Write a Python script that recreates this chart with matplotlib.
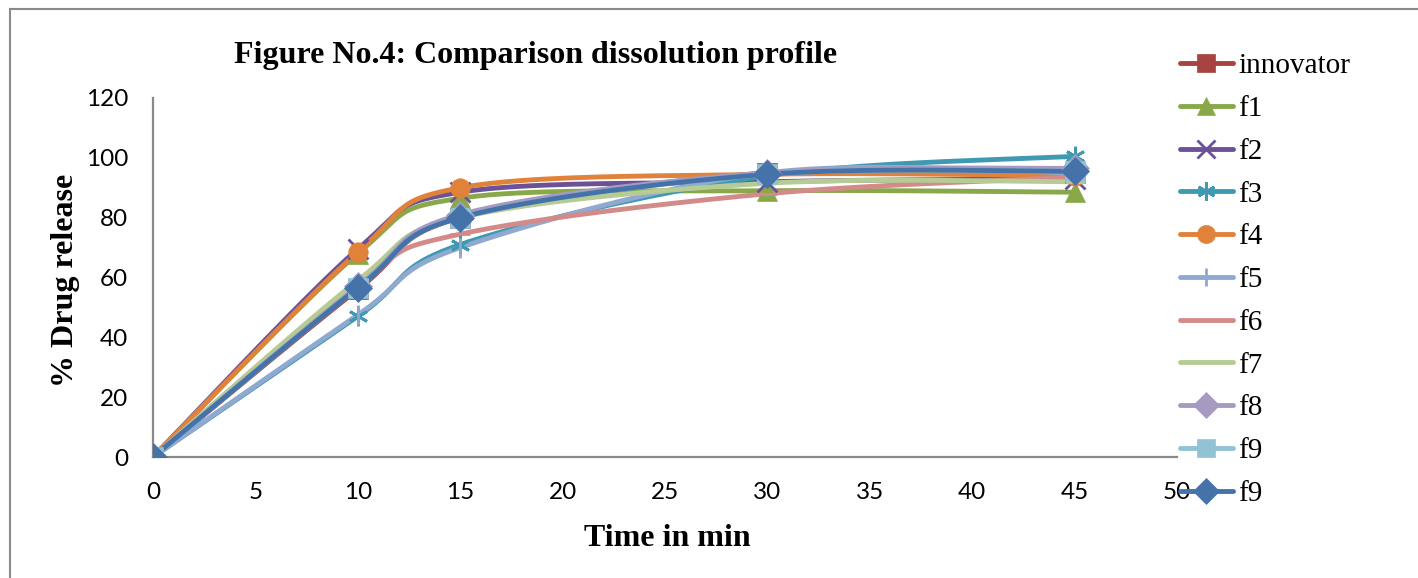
import numpy as np
import matplotlib
matplotlib.use("Agg")
import matplotlib.pyplot as plt
from matplotlib.lines import Line2D

# time points (min) and % drug release per formulation
time_min = [0, 10, 15, 30, 45]
innovator = [0, 56, 80, 95, 95]
f1 = [0, 68, 86.5, 89, 88.5]
f2 = [0, 69.5, 88.5, 92, 93]
f3 = [0, 47, 71, 94, 100.5]
f4 = [0, 68.5, 90, 94.5, 94]
f5 = [0, 47.5, 70, 95, 95]
f6 = [0, 58, 74.5, 88, 93.5]
f7 = [0, 59, 80, 91.5, 92]
f8 = [0, 57, 81, 95, 96.5]
f9a = [0, 56.5, 80, 94.5, 95.5]
f9b = [0, 56.5, 80, 94.5, 95.5]

labels = ["innovator", "f1", "f2", "f3", "f4", "f5", "f6", "f7", "f8", "f9", "f9"]
series = [innovator, f1, f2, f3, f4, f5, f6, f7, f8, f9a, f9b]
colors = ["#A8433F", "#88A84A", "#6B5296", "#3F9AB1", "#E0823A", "#8FA9D0",
          "#D38B8A", "#B6CC94", "#A79AC1", "#92C3D5", "#4572A9"]
markers = ["s", "^", "x", (6, 2, 0), "o", "|", "_", "_", "D", "s", "D"]

TICK_FONT = "Lato"
SERIF = "Liberation Serif"

fig = plt.figure(figsize=(14.18, 5.78), dpi=100)
ax = fig.add_axes([153 / 1418, 1 - 457 / 578, 1024 / 1418, 359 / 578])
ax.set_xlim(0, 50)
ax.set_ylim(0, 120)
ax.set_xticks(range(0, 51, 5))
ax.set_yticks(range(0, 121, 20))
ax.tick_params(length=0, labelsize=17.5)
ax.tick_params(axis="y", pad=18)
ax.tick_params(axis="x", pad=18)
for lab in ax.get_xticklabels() + ax.get_yticklabels():
    lab.set_fontfamily(TICK_FONT)
for s in ["top", "right"]:
    ax.spines[s].set_visible(False)
for s in ["left", "bottom"]:
    ax.spines[s].set_color("#898989")
    ax.spines[s].set_linewidth(1.6)


def smooth(xs, ys, n=40):
    # Excel-style smoothed line: Catmull-Rom bezier in screen space
    pts = ax.transData.transform(np.column_stack([xs, ys]))
    p = np.vstack([pts[0], pts, pts[-1]])
    out = []
    t = np.linspace(0, 1, n)[:, None]
    for i in range(1, len(p) - 2):
        p0, p3 = p[i], p[i + 1]
        c1 = p0 + (p[i + 1] - p[i - 1]) / 6
        c2 = p3 - (p[i + 2] - p[i]) / 6
        seg = ((1 - t) ** 3) * p0 + 3 * ((1 - t) ** 2) * t * c1 + 3 * (1 - t) * t ** 2 * c2 + t ** 3 * p3
        out.append(seg if i == 1 else seg[1:])
    out = np.vstack(out)
    return ax.transData.inverted().transform(out).T


handles = []
for lab, ys, c, m in zip(labels, series, colors, markers):
    sx, sy = smooth(time_min, ys)
    ax.plot(sx, sy, color=c, lw=3.5, solid_capstyle="round", zorder=2)
    mew = 2 if m in ("x", "|", "_") or isinstance(m, tuple) else 0.5
    ax.plot(time_min, ys, ls="none", marker=m, color=c, markersize=14,
            markeredgewidth=mew, zorder=3)
    handles.append(Line2D([], [], color=c, lw=3.5, marker=m, markersize=13,
                          markeredgewidth=mew, solid_capstyle="round"))

leg = fig.legend(handles, labels, loc="upper left",
                 bbox_to_anchor=(1180 / 1418, 1 - 53 / 578), frameon=False,
                 prop={"family": SERIF, "size": 21}, handlelength=1.8,
                 handletextpad=0.2, labelspacing=0.56, borderpad=0, borderaxespad=0)

fig.text(536 / 1418, 1 - 56 / 578, "Figure No.4: Comparison dissolution profile",
         ha="center", va="center", family=SERIF, fontweight="bold", fontsize=23)
fig.text(667 / 1418, 1 - 539 / 578, "Time in min", ha="center", va="center",
         family=SERIF, fontweight="bold", fontsize=23)
fig.text(65 / 1418, 1 - 280 / 578, "% Drug release", ha="center", va="center",
         rotation=90, family=SERIF, fontweight="bold", fontsize=23)

# outer frame
fig.add_artist(Line2D([10 / 1418, 10 / 1418], [0, 1 - 9 / 578], color="#8a8a8a", lw=1.5,
                      transform=fig.transFigure))
fig.add_artist(Line2D([10 / 1418, 1], [1 - 9 / 578, 1 - 9 / 578], color="#8a8a8a", lw=1.5,
                      transform=fig.transFigure))

fig.savefig("out.png", dpi=100)
